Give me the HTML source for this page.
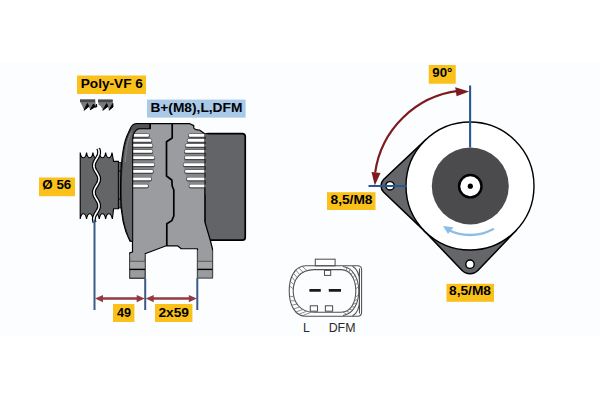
<!DOCTYPE html><html><head><meta charset="utf-8"><style>html,body{margin:0;padding:0;background:#fff;}svg{display:block;font-family:"Liberation Sans",sans-serif;}</style></head><body>
<svg width="600" height="400" viewBox="0 0 600 400">
<rect x="0" y="0" width="600" height="400" fill="#fff"/>
<rect x="0" y="62.5" width="600" height="273.5" fill="#fcfdff"/>
<path d="M80.2,219 L80.2,152.5 Q80.96,157.8 83.38,157.8 Q85.80,157.8 86.56,152.5 Q87.32,157.8 89.74,157.8 Q92.16,157.8 92.92,152.5 Q93.68,157.8 96.10,157.8 Q98.52,157.8 99.28,152.5 Q100.04,157.8 102.46,157.8 Q104.88,157.8 105.64,152.5 Q106.40,157.8 108.82,157.8 Q111.24,157.8 112.00,152.5 L113.6,161.4 L118.4,161.4 L118.4,208.8 L113.6,208.8 L112.4,219 Q111.24,213.8 108.82,213.8 Q106.40,213.8 105.64,219 Q104.88,213.8 102.46,213.8 Q100.04,213.8 99.28,219 Q98.52,213.8 96.10,213.8 Q93.68,213.8 92.92,219 Q92.16,213.8 89.74,213.8 Q87.32,213.8 86.56,219 Q85.80,213.8 83.38,213.8 Q80.96,213.8 80.20,219 Z" fill="#646567" stroke="#000" stroke-width="1.1"/>
<rect x="118.4" y="162.5" width="2.8" height="45.5" fill="#646567" stroke="#000" stroke-width="0.8"/>
<path d="M118.4,171 h2.8 M118.4,199 h2.8" stroke="#000" stroke-width="1"/>
<clipPath id="pc"><path d="M80.2,219 L80.2,152.5 Q80.96,157.8 83.38,157.8 Q85.80,157.8 86.56,152.5 Q87.32,157.8 89.74,157.8 Q92.16,157.8 92.92,152.5 Q93.68,157.8 96.10,157.8 Q98.52,157.8 99.28,152.5 Q100.04,157.8 102.46,157.8 Q104.88,157.8 105.64,152.5 Q106.40,157.8 108.82,157.8 Q111.24,157.8 112.00,152.5 L113.6,161.4 L118.4,161.4 L118.4,208.8 L113.6,208.8 L112.4,219 Q111.24,213.8 108.82,213.8 Q106.40,213.8 105.64,219 Q104.88,213.8 102.46,213.8 Q100.04,213.8 99.28,219 Q98.52,213.8 96.10,213.8 Q93.68,213.8 92.92,219 Q92.16,213.8 89.74,213.8 Q87.32,213.8 86.56,219 Q85.80,213.8 83.38,213.8 Q80.96,213.8 80.20,219 Z"/></clipPath>
<g><path d="M98.18,148.50 L98.60,149.50 L98.90,150.50 L99.07,151.50 L99.09,152.50 L98.98,153.50 L98.73,154.50 L98.36,155.50 L97.89,156.50 L97.34,157.50 L96.74,158.50 L96.14,159.50 L95.55,160.50 L95.01,161.50 L94.56,162.50 L94.21,163.50 L93.99,164.50 L93.90,165.50 L93.96,166.50 L94.15,167.50 L94.48,168.50 L94.91,169.50 L95.44,170.50 L96.02,171.50 L96.62,172.50 L97.22,173.50 L97.78,174.50 L98.27,175.50 L98.67,176.50 L98.94,177.50 L99.08,178.50 L99.08,179.50 L98.94,180.50 L98.67,181.50 L98.27,182.50 L97.78,183.50 L97.22,184.50 L96.62,185.50 L96.02,186.50 L95.44,187.50 L94.91,188.50 L94.48,189.50 L94.15,190.50 L93.96,191.50 L93.90,192.50 L93.99,193.50 L94.21,194.50 L94.56,195.50 L95.01,196.50 L95.55,197.50 L96.14,198.50 L96.74,199.50 L97.34,200.50 L97.89,201.50 L98.36,202.50 L98.73,203.50 L98.98,204.50 L99.09,205.50 L99.07,206.50 L98.90,207.50 L98.60,208.50 L98.18,209.50 L97.67,210.50 L97.10,211.50 L96.50,212.50 L95.90,213.50 L95.33,214.50 L94.82,215.50 L94.40,216.50 L94.10,217.50 L93.93,218.50 L93.91,219.50 L94.02,220.50 L94.27,221.50 L94.64,222.50" fill="none" stroke="#000" stroke-width="4"/>
<path d="M98.18,148.50 L98.60,149.50 L98.90,150.50 L99.07,151.50 L99.09,152.50 L98.98,153.50 L98.73,154.50 L98.36,155.50 L97.89,156.50 L97.34,157.50 L96.74,158.50 L96.14,159.50 L95.55,160.50 L95.01,161.50 L94.56,162.50 L94.21,163.50 L93.99,164.50 L93.90,165.50 L93.96,166.50 L94.15,167.50 L94.48,168.50 L94.91,169.50 L95.44,170.50 L96.02,171.50 L96.62,172.50 L97.22,173.50 L97.78,174.50 L98.27,175.50 L98.67,176.50 L98.94,177.50 L99.08,178.50 L99.08,179.50 L98.94,180.50 L98.67,181.50 L98.27,182.50 L97.78,183.50 L97.22,184.50 L96.62,185.50 L96.02,186.50 L95.44,187.50 L94.91,188.50 L94.48,189.50 L94.15,190.50 L93.96,191.50 L93.90,192.50 L93.99,193.50 L94.21,194.50 L94.56,195.50 L95.01,196.50 L95.55,197.50 L96.14,198.50 L96.74,199.50 L97.34,200.50 L97.89,201.50 L98.36,202.50 L98.73,203.50 L98.98,204.50 L99.09,205.50 L99.07,206.50 L98.90,207.50 L98.60,208.50 L98.18,209.50 L97.67,210.50 L97.10,211.50 L96.50,212.50 L95.90,213.50 L95.33,214.50 L94.82,215.50 L94.40,216.50 L94.10,217.50 L93.93,218.50 L93.91,219.50 L94.02,220.50 L94.27,221.50 L94.64,222.50" fill="none" stroke="#fff" stroke-width="1.6"/></g>
<rect x="204.75" y="133.6" width="40.5" height="106.6" rx="3" fill="#636467" stroke="#000" stroke-width="1.7"/>
<path d="M137,123.6 L189.4,123.5 L193.75,125.6 L193.75,128 Q195,130 199.4,130 L203.75,133.1 L204.9,133.6 L204.9,222 L210.5,241 L212.5,249 L212.5,277.7 L197.5,277.7 L197.5,248.75 L181.25,248.75 L177.5,245.8 L166.25,245.8 L145,253.75 L145,278.1 L129.75,278.1 L129.75,252.8 L132.5,252 L132.5,241.25 L130,241.25 C124,230 120.8,214 120.6,196 C120.4,178 121.4,160 123.2,150 C124.2,144 125.6,138.5 127.8,134 L130.8,127.5 Q132.8,123.6 137,123.6 Z" fill="#9b9ca0" stroke="#000" stroke-width="1.2" stroke-linejoin="round"/>
<path d="M132.6,134.00 L148.00,134.00 L149.20,135.50 L151.70,140.50 L152.70,145.50 L152.70,151.50 L154.60,157.75 L154.60,164.75 L153.20,171.50 L151.45,179.00 L148.20,186.00 L147.00,188.00 L132.6,188.00 Z" fill="#86878b"/>
<path d="M205,134.00 L189.75,134.00 L188.55,135.50 L187.30,140.50 L185.40,145.50 L184.55,151.50 L184.55,157.75 L183.30,164.75 L184.80,171.50 L186.70,179.00 L189.20,186.00 L190.40,188.00 L205,188.00 Z" fill="#86878b"/>
<rect x="131" y="133.50" width="18.80" height="4.6" rx="2.3" fill="#48484b"/>
<rect x="131" y="134.10" width="18.00" height="2.7" rx="1.35" fill="#fff"/>
<rect x="131" y="138.50" width="21.30" height="4.6" rx="2.3" fill="#48484b"/>
<rect x="131" y="139.10" width="20.50" height="2.7" rx="1.35" fill="#fff"/>
<rect x="131" y="143.50" width="22.30" height="4.6" rx="2.3" fill="#48484b"/>
<rect x="131" y="144.10" width="21.50" height="2.7" rx="1.35" fill="#fff"/>
<rect x="131" y="149.50" width="22.30" height="4.6" rx="2.3" fill="#48484b"/>
<rect x="131" y="150.10" width="21.50" height="2.7" rx="1.35" fill="#fff"/>
<rect x="131" y="155.75" width="24.20" height="4.6" rx="2.3" fill="#48484b"/>
<rect x="131" y="156.35" width="23.40" height="2.7" rx="1.35" fill="#fff"/>
<rect x="131" y="162.75" width="24.20" height="4.6" rx="2.3" fill="#48484b"/>
<rect x="131" y="163.35" width="23.40" height="2.7" rx="1.35" fill="#fff"/>
<rect x="131" y="169.50" width="22.80" height="4.6" rx="2.3" fill="#48484b"/>
<rect x="131" y="170.10" width="22.00" height="2.7" rx="1.35" fill="#fff"/>
<rect x="131" y="177.00" width="21.05" height="4.6" rx="2.3" fill="#48484b"/>
<rect x="131" y="177.60" width="20.25" height="2.7" rx="1.35" fill="#fff"/>
<rect x="131" y="184.00" width="17.80" height="4.6" rx="2.3" fill="#48484b"/>
<rect x="131" y="184.60" width="17.00" height="2.7" rx="1.35" fill="#fff"/>
<rect x="187.95" y="133.50" width="18.05" height="4.6" rx="2.3" fill="#48484b"/>
<rect x="188.75" y="134.10" width="17.25" height="2.7" rx="1.35" fill="#fff"/>
<rect x="186.70" y="138.50" width="19.30" height="4.6" rx="2.3" fill="#48484b"/>
<rect x="187.50" y="139.10" width="18.50" height="2.7" rx="1.35" fill="#fff"/>
<rect x="184.80" y="143.50" width="21.20" height="4.6" rx="2.3" fill="#48484b"/>
<rect x="185.60" y="144.10" width="20.40" height="2.7" rx="1.35" fill="#fff"/>
<rect x="183.95" y="149.50" width="22.05" height="4.6" rx="2.3" fill="#48484b"/>
<rect x="184.75" y="150.10" width="21.25" height="2.7" rx="1.35" fill="#fff"/>
<rect x="183.95" y="155.75" width="22.05" height="4.6" rx="2.3" fill="#48484b"/>
<rect x="184.75" y="156.35" width="21.25" height="2.7" rx="1.35" fill="#fff"/>
<rect x="182.70" y="162.75" width="23.30" height="4.6" rx="2.3" fill="#48484b"/>
<rect x="183.50" y="163.35" width="22.50" height="2.7" rx="1.35" fill="#fff"/>
<rect x="184.20" y="169.50" width="21.80" height="4.6" rx="2.3" fill="#48484b"/>
<rect x="185.00" y="170.10" width="21.00" height="2.7" rx="1.35" fill="#fff"/>
<rect x="186.10" y="177.00" width="19.90" height="4.6" rx="2.3" fill="#48484b"/>
<rect x="186.90" y="177.60" width="19.10" height="2.7" rx="1.35" fill="#fff"/>
<rect x="188.60" y="184.00" width="17.40" height="4.6" rx="2.3" fill="#48484b"/>
<rect x="189.40" y="184.60" width="16.60" height="2.7" rx="1.35" fill="#fff"/>
<rect x="205.4" y="134.3" width="3" height="60" fill="#636467"/>
<path d="M137,124.2 L150.2,124.2 L150.2,128.6 L139,128.6 Q133,130 132.6,140 L132.6,241 L130.5,241 C124.6,230 121.4,214 121.2,196 C121,178 122,160 123.8,150 C124.8,144 126.2,138.7 128.4,134.3 L131.4,127.8 Q133.2,124.2 137,124.2 Z" fill="#646567" stroke="#000" stroke-width="0.8"/>
<path d="M137,124.2 L150.2,124.2 L150.2,128.6 L139,128.6 Q135,129 133.2,131.5 L131.4,127.8 Q133.2,124.2 137,124.2 Z" fill="#545457"/>
<path d="M150.2,124 L150.2,128.6 L139,128.6 Q133,130 132.6,140 L132.6,241" fill="none" stroke="#111" stroke-width="1.1"/>
<path d="M150.2,123.8 V128.8" stroke="#000" stroke-width="1.6"/>
<path d="M131,133 C128,139 126.3,146 125.4,162" fill="none" stroke="#85868a" stroke-width="1"/>
<path d="M204.9,133.6 L204.9,222" stroke="#1a1a1a" stroke-width="1"/>
<path d="M172.2,123.5 L172.2,138 L166.5,141.7 L166.5,176 L171.8,180 L172.2,186 L173.8,190 L173.8,216 L171.8,220.6 L166.8,223.7 L166.8,246" fill="none" stroke="#000" stroke-width="1.7" stroke-linejoin="round"/>
<path d="M129.75,254.5 V278 H145 V254.5" fill="#9b9ca0" stroke="#4a4a4c" stroke-width="1.1"/>
<rect x="130.35" y="253.5" width="14.05" height="4" fill="#9b9ca0"/>
<path d="M129.75,261.3 H145" stroke="#555" stroke-width="0.9"/>
<rect x="130.25" y="262" width="14.25" height="6.8" fill="#a5a6a8"/>
<path d="M129.75,269.4 H145" stroke="#000" stroke-width="1.4"/>
<path d="M197.5,250.5 V278 H212.5 V250.5" fill="#9b9ca0" stroke="#4a4a4c" stroke-width="1.1"/>
<rect x="198.1" y="249.5" width="13.8" height="4" fill="#9b9ca0"/>
<path d="M197.5,261.3 H212.5" stroke="#555" stroke-width="0.9"/>
<rect x="198.0" y="262" width="14.0" height="6.8" fill="#a5a6a8"/>
<path d="M197.5,269.4 H212.5" stroke="#000" stroke-width="1.4"/>
<path d="M94.5,219.5 V310" stroke="#3d5a86" stroke-width="2"/>
<path d="M145.2,278.5 V310" stroke="#3d5a86" stroke-width="2"/>
<path d="M197.3,278 V310" stroke="#3d5a86" stroke-width="2"/>
<path d="M99.5,298.6 H140.2" stroke="#94393f" stroke-width="2.5"/>
<path d="M95.0,298.6 L103.0,295.0 L103.0,302.20000000000005 Z" fill="#94393f"/>
<path d="M144.7,298.6 L136.7,295.0 L136.7,302.20000000000005 Z" fill="#94393f"/>
<path d="M150.2,298.6 H192.3" stroke="#94393f" stroke-width="2.5"/>
<path d="M145.7,298.6 L153.7,295.0 L153.7,302.20000000000005 Z" fill="#94393f"/>
<path d="M196.8,298.6 L188.8,295.0 L188.8,302.20000000000005 Z" fill="#94393f"/>
<path d="M80,101.6 L84.2,110 L87,104.2 L90.4,109.5 L93.4,104.6 L96.3,108 L95.2,101.6 Z" fill="#7a7a7c"/>
<rect x="80" y="99.3" width="15.2" height="2.8" fill="#47474a"/>
<path d="M84,110.3 L87.4,103.4 L88.8,106.6 Z M90.2,109.8 L93.6,104 L95.2,106.8 Z M95.6,107.6 L96.5,104.2 L96.8,107" fill="#000" stroke="#000" stroke-width="0.9" stroke-linejoin="round"/>
<path d="M98.2,101.6 L98.6,105 L100.2,105.6 L103,109.8 L106.2,104.3 L109.2,109.8 L112.6,104.2 L112.8,101.6 Z" fill="#7a7a7c"/>
<rect x="98" y="99.4" width="14.8" height="2.8" fill="#47474a"/>
<path d="M102.8,110.3 L106.6,103.6 L107.8,106.6 Z M109,110.2 L112.8,103.4 L113,107 Z" fill="#000" stroke="#000" stroke-width="0.9" stroke-linejoin="round"/>
<path d="M426.12,139.41 L383.83,179.25 A9.0,9.0 0 0 0 383.80,192.32 L425.88,232.37 Z" fill="#656669" stroke="#000" stroke-width="1.5" stroke-linejoin="round"/>
<circle cx="390" cy="185.8" r="4.2" fill="#fff" stroke="#000" stroke-width="1.4"/>
<path d="M423.63,230.11 L461.89,270.32 A11.2,11.2 0 0 0 478.11,270.32 L516.37,230.11 Z" fill="#656669" stroke="#000" stroke-width="1.5" stroke-linejoin="round"/>
<circle cx="470" cy="264.20000000000005" r="4.2" fill="#fff" stroke="#000" stroke-width="1.4"/>
<circle cx="470" cy="186" r="64" fill="#fff" stroke="#000" stroke-width="1.4"/>
<circle cx="470.3" cy="186" r="38.5" fill="#4b4b4e"/>
<circle cx="470.3" cy="186.2" r="11.2" fill="#fff" stroke="#000" stroke-width="2.4"/>
<circle cx="470.3" cy="186.2" r="2.6" fill="#000"/>
<path d="M470.1,85.5 V147.5" stroke="#285893" stroke-width="2.1"/>
<path d="M368.5,186 H406" stroke="#285893" stroke-width="2.1"/>
<path d="M458.32,90.91 A95.8,95.8 0 0 0 375.13,172.67" fill="none" stroke="#7e1b1f" stroke-width="2.2"/>
<path d="M469.2,91.4 L455.2,87.2 L456.6,96.2 Z" fill="#7e1b1f"/>
<path d="M374.8,185.5 L371.5,172 L380.5,173 Z" fill="#7e1b1f"/>
<path d="M493.00,229.26 A49,49 0 0 1 447.00,229.26" fill="none" stroke="#8dbde6" stroke-width="2.4" stroke-linecap="round"/>
<path d="M443,226 L453.5,227.2 L448,234 Z" fill="#8dbde6"/>
<g fill="none" stroke="#505052" stroke-width="1.05">
<rect x="315.3" y="259.2" width="19.8" height="6.6" fill="#fff"/>
<path d="M306,265.8 H357.5 Q361.6,265.8 361.6,269.8 V312.3 Q361.6,316.3 357.5,316.3 H306 C295,316.3 289.2,305 289.2,291 C289.2,277 295,265.8 306,265.8 Z"/>
<path d="M359.5,268.5 V313.5 M352.5,266.2 Q359.5,270 359.5,282 M352.5,316 Q359.5,312 359.5,300"/>
<path d="M314,269.6 H341 C351,269.6 355.8,280 355.8,291 C355.8,302 351,312.2 341,312.2 H314 C300,312.2 293.2,302 293.2,291 C293.2,280 300,269.6 314,269.6 Z"/>
<path d="M343,266.5 C354,268 358.8,280 358.8,291 C358.8,302 354,314 343,315.5"/>
<rect x="324.5" y="270.4" width="6.2" height="5" fill="#fff"/>
<rect x="310.3" y="305.8" width="7.2" height="5.4" fill="#fff"/>
<rect x="325.4" y="305.8" width="7.2" height="5.4" fill="#fff"/>
</g>
<path d="M302.12,266.31 L306.97,270.61 M298.73,267.77 L303.04,272.31 M295.85,270.08 L299.78,274.70 M293.47,273.15 L297.18,277.66 M291.62,276.87 L295.24,281.09 M290.28,281.16 L293.94,284.86 M289.47,285.90 L293.29,288.87 M289.47,296.11 L293.90,296.96 M290.28,300.86 L295.17,300.72 M291.62,305.16 L297.09,304.13 M293.48,308.90 L299.67,307.08 M295.85,311.99 L302.90,309.46 M298.73,314.32 L306.80,311.16 M302.12,315.79 L311.36,312.07 M346.84,267.53 L346.02,270.61 M350.11,269.41 L348.81,272.31 M352.83,272.01 L351.13,274.70 M355.03,275.19 L352.98,277.66 M356.70,278.81 L354.36,281.09 M357.88,282.74 L355.28,284.86 M358.57,286.85 L355.74,288.87 M358.57,295.15 L355.30,296.96 M357.88,299.26 L354.40,300.72 M356.70,303.19 L353.04,304.13 M355.02,306.81 L351.21,307.08 M352.83,309.99 L348.91,309.46 M350.11,312.59 L346.14,311.16 M346.84,314.47 L342.88,312.07" stroke="#707072" stroke-width="0.8"/>
<path d="M309.4,290.4 H320.8 M328.8,290.4 H341" stroke="#1a1a1a" stroke-width="2.6"/>
<text x="302.9" y="331.7" font-size="12.3" fill="#2a2a2a">L</text>
<text x="328.7" y="331.7" font-size="12.3" fill="#2a2a2a" textLength="26.8" lengthAdjust="spacingAndGlyphs">DFM</text>
<rect x="77" y="75.5" width="69.00" height="18.50" fill="#fac11b"/>
<text x="80.8" y="87.6" font-size="13.6" font-weight="bold" textLength="62" lengthAdjust="spacingAndGlyphs">Poly-VF 6</text>
<rect x="147" y="99.6" width="98.60" height="18.00" fill="#a8c9e8"/>
<text x="150.4" y="111.6" font-size="13.6" font-weight="bold" textLength="92" lengthAdjust="spacingAndGlyphs">B+(M8),L,DFM</text>
<rect x="39" y="177.5" width="36.00" height="18.70" fill="#fac11b"/>
<text x="42.3" y="189.1" font-size="13.6" font-weight="bold" textLength="29" lengthAdjust="spacingAndGlyphs">Ø 56</text>
<rect x="113" y="304" width="21.40" height="18.00" fill="#fac11b"/>
<text x="117" y="317" font-size="13.6" font-weight="bold" textLength="14" lengthAdjust="spacingAndGlyphs">49</text>
<rect x="155" y="304" width="37.40" height="18.00" fill="#fac11b"/>
<text x="158.5" y="317" font-size="13.6" font-weight="bold" textLength="30.5" lengthAdjust="spacingAndGlyphs">2x59</text>
<rect x="428.75" y="65" width="27.00" height="18.75" fill="#fac11b"/>
<text x="432.3" y="77.0" font-size="13.6" font-weight="bold" textLength="20" lengthAdjust="spacingAndGlyphs">90°</text>
<rect x="327" y="192.2" width="48.50" height="17.80" fill="#fac11b"/>
<text x="330.5" y="204" font-size="13.6" font-weight="bold" textLength="42" lengthAdjust="spacingAndGlyphs">8,5/M8</text>
<rect x="446.5" y="283.8" width="47.50" height="18.00" fill="#fac11b"/>
<text x="449" y="295" font-size="13.6" font-weight="bold" textLength="42" lengthAdjust="spacingAndGlyphs">8,5/M8</text>
</svg></body></html>
